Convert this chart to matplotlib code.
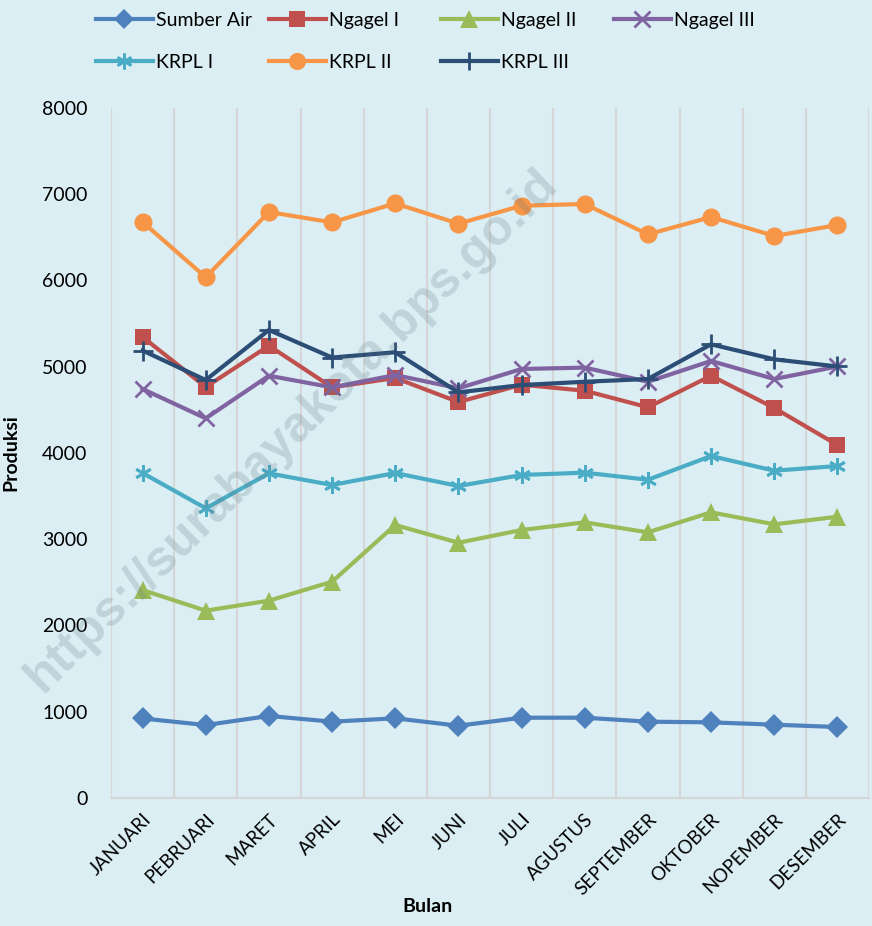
import matplotlib.pyplot as plt

plt.rcParams['font.family'] = ['Lato', 'DejaVu Sans']

bulan = ["JANUARI", "PEBRUARI", "MARET", "APRIL", "MEI", "JUNI", "JULI",
         "AGUSTUS", "SEPTEMBER", "OKTOBER", "NOPEMBER", "DESEMBER"]

sumber_air = [922, 846, 951, 885, 924, 838, 931, 931, 885, 877, 850, 823]
ngagel_1 = [5345, 4765, 5244, 4761, 4870, 4591, 4792, 4722, 4530, 4896, 4522, 4093]
ngagel_2 = [2411, 2172, 2288, 2508, 3165, 2960, 3107, 3196, 3080, 3312, 3173, 3261]
ngagel_3 = [4742, 4402, 4896, 4761, 4904, 4750, 4974, 4990, 4826, 5067, 4858, 5003]
krpl_1 = [3768, 3359, 3764, 3629, 3768, 3617, 3745, 3772, 3690, 3965, 3795, 3849]
krpl_2 = [6678, 6037, 6794, 6674, 6894, 6659, 6867, 6887, 6535, 6736, 6516, 6643]
krpl_3 = [5188, 4846, 5426, 5107, 5168, 4703, 4788, 4826, 4858, 5260, 5086, 5003]

series = [
    ("Sumber Air", sumber_air, "#4F81BD", "D", 11),
    ("Ngagel I", ngagel_1, "#C0504D", "s", 12),
    ("Ngagel II", ngagel_2, "#9BBB59", "^", 13),
    ("Ngagel III", ngagel_3, "#8064A2", "x", 12),
    ("KRPL I", krpl_1, "#4BACC6", "*", 12),
    ("KRPL II", krpl_2, "#F79646", "o", 13),
    ("KRPL III", krpl_3, "#2C4D75", "+", 14),
]

bg = "#DAEEF3"
fig = plt.figure(figsize=(8.72, 9.26), dpi=100, facecolor=bg)
ax = fig.add_axes([111 / 872, 128 / 926, 758 / 872, 690 / 926], facecolor=bg)

x = list(range(len(bulan)))
handles = []
for name, vals, col, mk, ms in series:
    if mk == "*":
        # asterisk like Excel's star marker
        h, = ax.plot(x, vals, color=col, lw=3, marker=(6, 2, 0), ms=ms,
                     mew=2, label=name, zorder=3)
    elif mk in ("x", "+"):
        h, = ax.plot(x, vals, color=col, lw=3, marker=mk, ms=ms, mew=2,
                     label=name, zorder=3)
    else:
        h, = ax.plot(x, vals, color=col, lw=3, marker=mk, ms=ms, mew=0,
                     label=name, zorder=3)
    handles.append(h)

ax.set_xlim(-0.5, len(bulan) - 0.5)
ax.set_ylim(0, 8000)
ax.set_yticks(range(0, 8001, 1000))
ax.set_xticks(x)
ax.set_xticklabels(bulan, rotation=45, ha="right", va="top",
                   rotation_mode="anchor", fontsize=13.5)
ax.set_xticks([i - 0.5 for i in range(len(bulan) + 1)], minor=True)
ax.grid(True, which="minor", axis="x", color="#D6D6D6", lw=1.5)
ax.tick_params(axis="both", which="both", length=0)
ax.tick_params(axis="y", labelsize=14, pad=17)
ax.tick_params(axis="x", pad=9)
for s in ["top", "right", "left"]:
    ax.spines[s].set_visible(False)
ax.spines["bottom"].set_color("#D6D6D6")
ax.spines["bottom"].set_linewidth(1.5)

ax.set_ylabel("Produksi", fontsize=14, fontweight="bold", labelpad=16)
fig.text(427 / 872, 1 - 906 / 926, "Bulan", fontsize=14, fontweight="bold",
         ha="center", va="center")

# legend, 4 fixed-width columns like Excel
cols = [[0, 4], [1, 5], [2, 6], [3]]
xs = [95, 268, 440, 613]
for c, xp in zip(cols, xs):
    fig.legend([handles[i] for i in c], [series[i][0] for i in c],
               loc="upper left", bbox_to_anchor=(xp / 872 - 0.012, 1.0),
               frameon=False, fontsize=14, handlelength=2.9,
               handletextpad=0.15, labelspacing=1.3, borderaxespad=0.2,
               markerscale=0.95)

# watermark
fig.text(0.335, 0.535, "https://surabayakota.bps.go.id", rotation=44.5,
         fontsize=36, fontweight="bold", color="#5f7580", alpha=0.22,
         ha="center", va="center", family="Liberation Sans", zorder=10)

fig.savefig("out.png", dpi=100, facecolor=bg)
